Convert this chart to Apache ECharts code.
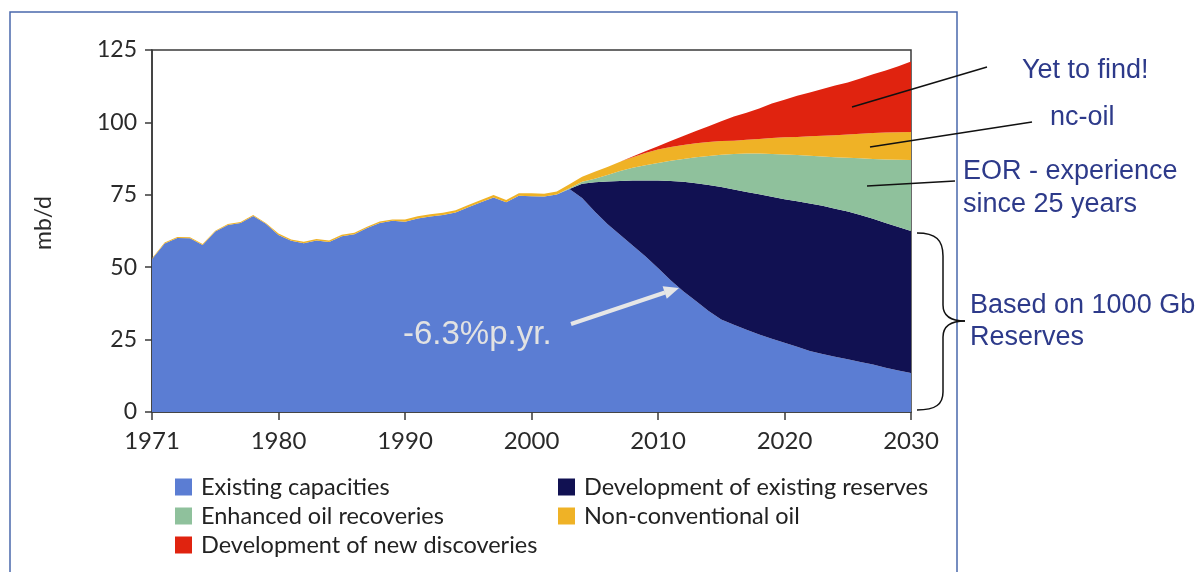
<!DOCTYPE html>
<html>
<head>
<meta charset="utf-8">
<script src="https://cdn.jsdelivr.net/npm/echarts@6/dist/echarts.min.js"></script>
<style>
html,body{margin:0;padding:0;background:#fff;}
#chart{width:1204px;height:572px;}
</style>
</head>
<body>
<div id="chart"></div>
<script>
// ---- data (mb/d), one value per year position on the time axis ----
const years = ['1970','1971','1972','1973','1974','1975','1976','1977','1978','1979',
  '1980','1981','1982','1983','1984','1985','1986','1987','1988','1989',
  '1990','1991','1992','1993','1994','1995','1996','1997','1998','1999',
  '2000','2001','2002','2003','2004','2005','2006','2007','2008','2009',
  '2010','2011','2012','2013','2014','2015','2016','2017','2018','2019',
  '2020','2021','2022','2023','2024','2025','2026','2027','2028','2029','2030'];

const existingCapacities = [52.8,58.2,60.1,60.0,57.7,62.3,64.6,65.3,67.7,65.0,
  61.1,59.1,58.3,59.2,58.7,60.7,61.4,63.5,65.3,66.0,
  65.7,66.8,67.5,68.0,68.9,70.7,72.4,74.1,72.4,74.7,
  74.5,74.4,75.1,77.0,73.9,69.2,64.9,61.2,57.5,53.8,
  49.7,45.5,41.7,38.3,34.9,31.9,30.1,28.4,26.8,25.3,
  23.9,22.5,21.1,20.0,19.1,18.2,17.3,16.4,15.3,14.3,13.5];

const existingReserves = [0,0,0,0,0,0,0,0,0,0,
  0,0,0,0,0,0,0,0,0,0,
  0,0,0,0,0,0,0,0,0,0,
  0,0,0,0,4.9,10.1,14.7,18.6,22.4,26.1,
  30.2,34.3,37.8,40.7,43.5,45.8,46.7,47.6,48.4,49.0,
  49.6,50.3,50.9,51.2,51.1,51.0,50.7,50.3,50.0,49.6,49.0];

const enhancedRecovery = [0,0,0,0,0,0,0,0,0,0,
  0,0,0,0,0,0,0,0,0,0,
  0,0,0,0,0,0,0,0,0,0,
  0,0,0,0.3,0.7,1.2,2.2,3.4,4.4,5.3,
  6.1,7.0,7.9,9.0,10.0,11.1,12.3,13.3,14.1,14.8,
  15.4,15.9,16.5,17.0,17.8,18.6,19.6,20.7,21.9,23.2,24.5];

const nonConventional = [0.3,0.3,0.3,0.3,0.3,0.3,0.3,0.3,0.3,0.3,
  0.5,0.5,0.5,0.5,0.5,0.5,0.5,0.5,0.5,0.5,
  0.8,0.8,0.8,0.8,0.8,0.8,0.8,0.8,0.8,0.8,
  1.0,1.0,1.0,1.3,1.7,2.5,2.8,3.2,3.7,4.2,
  4.6,4.7,4.8,4.8,4.8,4.8,4.6,4.7,5.0,5.5,
  6.0,6.3,6.7,7.2,7.6,8.0,8.5,8.9,9.3,9.5,9.7];

const newDiscoveries = [0,0,0,0,0,0,0,0,0,0,
  0,0,0,0,0,0,0,0,0,0,
  0,0,0,0,0,0,0,0,0,0,
  0,0,0,0,0,0,0,0,0.2,0.6,
  1.2,2.1,3.1,4.2,5.5,6.8,8.3,9.3,10.5,11.9,
  12.9,14.2,15.1,16.1,17.1,18.0,19.1,20.3,21.4,22.8,24.3];

const xTickLabels = ['1971','1980','1990','2000','2010','2020','2030'];
const seriesNames = ['Existing capacities','Development of existing reserves','Enhanced oil recoveries','Non-conventional oil','Development of new discoveries'];
const seriesColors = ['#5b7dd3','#111152','#8fc19c','#efb226','#e0230f'];
const seriesData = [existingCapacities, existingReserves, enhancedRecovery, nonConventional, newDiscoveries];

const FONT = 'Lato, "Open Sans", sans-serif';
const ANN = '"Liberation Sans", Arial, sans-serif';

const chart = echarts.init(document.getElementById('chart'), null, {renderer:'canvas'});

const series = seriesNames.map((name, i) => ({
  name: name,
  type: 'line',
  stack: 'total',
  showSymbol: false,
  symbol: 'none',
  data: seriesData[i],
  lineStyle: {width: 0, color: seriesColors[i]},
  itemStyle: {color: seriesColors[i]},
  areaStyle: {color: seriesColors[i], opacity: 1}
}));

const annColor = '#2d3a8a';
function annText(text, x, y, size, fill) {
  return {type:'text', z:100, style:{text:text, x:x, y:y, fill:fill||annColor,
    font: (size||27) + 'px ' + ANN, align:'left', verticalAlign:'middle'}};
}
function seg(x1,y1,x2,y2,color,w){
  return {type:'line', z:100, shape:{x1:x1,y1:y1,x2:x2,y2:y2}, style:{stroke:color||'#111', lineWidth:w||1.5}};
}
function curve(x1,y1,cx1,cy1,cx2,cy2,x2,y2){
  return {type:'bezierCurve', z:100, shape:{x1:x1,y1:y1,cpx1:cx1,cpy1:cy1,cpx2:cx2,cpy2:cy2,x2:x2,y2:y2},
    style:{fill:'none', stroke:'#111', lineWidth:1.5}};
}

const option = {
  backgroundColor: '#ffffff',
  animation: false,
  grid: {left:152, right:293, top:50, bottom:160, show:true, borderColor:'#3a3a3a', borderWidth:1.5, backgroundColor:'transparent'},
  legend: [
    {data:[seriesNames[0], seriesNames[2], seriesNames[4]], orient:'vertical', left:170, top:470,
     icon:'rect', itemWidth:17, itemHeight:17, itemGap:5,
     textStyle:{fontFamily:FONT, fontSize:23.5, color:'#222', lineHeight:24, padding:[0,0,0,4]}},
    {data:[seriesNames[1], seriesNames[3]], orient:'vertical', left:553, top:470,
     icon:'rect', itemWidth:17, itemHeight:17, itemGap:5,
     textStyle:{fontFamily:FONT, fontSize:23.5, color:'#222', lineHeight:24, padding:[0,0,0,4]}}
  ],
  xAxis: {
    type:'category', data: years, boundaryGap:false,
    axisLine:{show:true, lineStyle:{color:'#3a3a3a', width:1.5}},
    axisTick:{show:true, inside:false, length:8, interval:9, lineStyle:{color:'#3a3a3a', width:1.5}},
    axisLabel:{fontFamily:FONT, fontSize:24, color:'#2a2a2a', margin:17, interval:9,
      formatter: (v, idx) => xTickLabels[Math.round(idx/10)]},
    splitLine:{show:false}
  },
  yAxis: {
    type:'value', min:0, max:125, interval:25,
    name:'mb/d', nameLocation:'middle', nameGap:97,
    nameTextStyle:{fontFamily:FONT, fontSize:23, color:'#2a2a2a', padding:[0,0,0,16]},
    axisLine:{show:true, lineStyle:{color:'#3a3a3a', width:1.5}},
    axisTick:{show:true, inside:false, length:7, lineStyle:{color:'#3a3a3a', width:1.5}},
    axisLabel:{fontFamily:FONT, fontSize:23, color:'#2a2a2a', margin:15},
    splitLine:{show:false}
  },
  series: series,
  graphic: [
    {type:'rect', z:100, shape:{x:10, y:12, width:947, height:600}, style:{fill:'none', stroke:'#4a68ac', lineWidth:1.5}},
    seg(852,107,987,67),
    seg(870,147,1032,122),
    seg(867,186,955,181),
    curve(917,233, 936,233, 943,240, 943,256),
    seg(943,256,943,305),
    curve(943,305, 943,316, 950,321, 965,321),
    curve(965,321, 950,321, 943,326, 943,337),
    seg(943,337,943,392),
    curve(943,392, 943,404, 936,410, 917,410),
    annText('Yet to find!', 1022, 71),
    annText('nc-oil', 1050, 118),
    annText('EOR - experience', 963, 172),
    annText('since 25 years', 963, 205),
    annText('Based on 1000 Gb', 970, 306),
    annText('Reserves', 970, 338),
    annText('-6.3%p.yr.', 403, 335, 33, '#e2e2e2'),
    seg(571,324,665,292.5,'#e6e6e6',4),
    {type:'polygon', z:100, shape:{points:[[679,288],[666.8,298.8],[662.6,286.2]]}, style:{fill:'#e6e6e6'}}
  ]
};
chart.setOption(option);
</script>
</body>
</html>
